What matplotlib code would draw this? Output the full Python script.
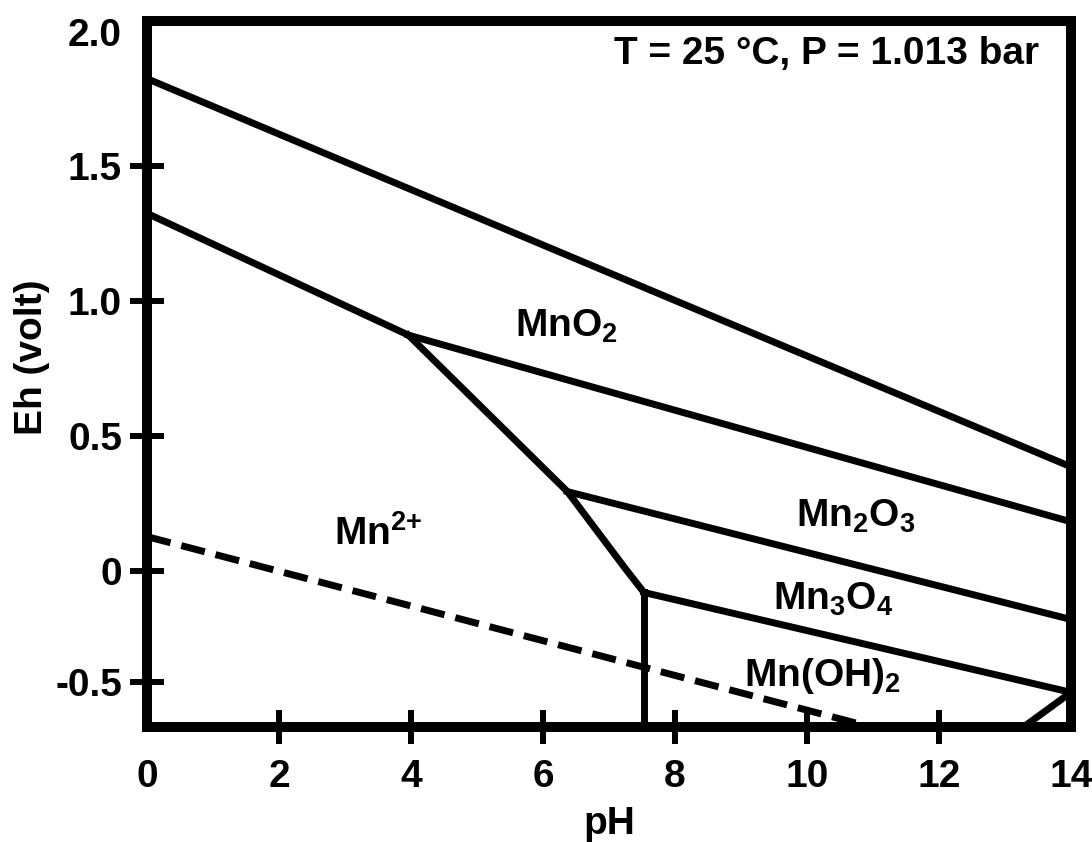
import numpy as np
import matplotlib
matplotlib.use("Agg")
import matplotlib.pyplot as plt

# Eh-pH diagram for Mn
# each boundary: pH list, Eh list
o2_water_ph = [0, 14]
o2_water_eh = [1.826, 0.385]

mn2_mno2_ph = [0, 3.96]
mn2_mno2_eh = [1.326, 0.874]

mno2_mn2o3_ph = [3.96, 14]
mno2_mn2o3_eh = [0.874, 0.181]

mn2_solid_ph = [3.96, 6.37, 7.27, 7.53]
mn2_solid_eh = [0.874, 0.293, 0.0, -0.098]

mn2o3_mn3o4_ph = [6.37, 11.08, 14]
mn2o3_mn3o4_eh = [0.293, 0.0, -0.219]

mn2_mnoh2_ph = [7.53, 7.53]
mn2_mnoh2_eh = [-0.098, -0.70]

mn3o4_mnoh2_ph = [7.53, 14]
mn3o4_mnoh2_eh = [-0.098, -0.545]

lower_right_ph = [14, 13.28]
lower_right_eh = [-0.545, -0.70]

h2_water_ph = [0, 1.96, 10.97]
h2_water_eh = [0.126, 0.0, -0.70]

labels = [r"$\mathrm{MnO_2}$", r"$\mathrm{Mn^{2{+}}}$", r"$\mathrm{Mn_2O_3}$",
          r"$\mathrm{Mn_3O_4}$", r"$\mathrm{Mn(OH)_2}$"]
label_ph = [6.36, 3.51, 10.74, 10.39, 10.23]
label_eh = [0.867, 0.096, 0.163, -0.174, -0.518]

xticks = [0, 2, 4, 6, 8, 10, 12, 14]
yticks = [-0.5, 0, 0.5, 1.0, 1.5, 2.0]
ytick_labels = ["-0.5", "0", "0.5", "1.0", "1.5", "2.0"]

plt.rcParams["font.family"] = ["Liberation Sans", "DejaVu Sans"]
plt.rcParams["font.weight"] = "bold"
plt.rcParams["mathtext.fontset"] = "custom"
plt.rcParams["mathtext.rm"] = "Liberation Sans:bold"
plt.rcParams["mathtext.it"] = "Liberation Sans:bold"
plt.rcParams["mathtext.bf"] = "Liberation Sans:bold"

# the picture's axis is squeezed below zero
neg = 224 / 270


def fwd(y):
    y = np.asarray(y, dtype=float)
    return np.where(y >= 0, y, y * neg)


def inv(t):
    t = np.asarray(t, dtype=float)
    return np.where(t >= 0, t, t / neg)


fig = plt.figure(figsize=(10.92, 8.42), dpi=100)
ax = fig.add_axes([147 / 1092, 1 - 727 / 842, 924 / 1092, 706 / 842])
ax.set_yscale("function", functions=(fwd, inv))

lw = 5
for xs, ys in [(o2_water_ph, o2_water_eh), (mn2_mno2_ph, mn2_mno2_eh),
               (mno2_mn2o3_ph, mno2_mn2o3_eh), (mn2_solid_ph, mn2_solid_eh),
               (mn2o3_mn3o4_ph, mn2o3_mn3o4_eh), (mn2_mnoh2_ph, mn2_mnoh2_eh),
               (mn3o4_mnoh2_ph, mn3o4_mnoh2_eh), (lower_right_ph, lower_right_eh)]:
    ax.plot(xs, ys, color="black", lw=lw, solid_joinstyle="miter")

ax.plot(h2_water_ph, h2_water_eh, color="black", lw=lw, dashes=(3.5, 1.6))

for txt, x, y in zip(labels, label_ph, label_eh):
    ax.text(x, y, txt, fontsize=28, ha="center", va="baseline")

ax.text(13.52, 1.881, "T = 25 °C, P = 1.013 bar", fontsize=28,
        fontweight="bold", ha="right", va="baseline")

ax.set_xlim(0, 14)
ax.set_ylim(-0.70, 2.04)
ax.set_xticks(xticks)
ax.set_xticklabels([str(t) for t in xticks])
ax.set_yticks(yticks)
ax.set_yticklabels(ytick_labels)

for side in ["left", "right", "top", "bottom"]:
    ax.spines[side].set_linewidth(7.2)

ax.tick_params(axis="both", direction="inout", length=24, width=4.3,
               labelsize=28)
ax.tick_params(axis="x", pad=11)
ax.tick_params(axis="y", pad=6)
for lab in ax.get_xticklabels() + ax.get_yticklabels():
    lab.set_fontweight("bold")

# no tick marks on the corners
xt = ax.xaxis.get_major_ticks()
xt[0].tick1line.set_visible(False)
xt[-1].tick1line.set_visible(False)
ax.yaxis.get_major_ticks()[-1].tick1line.set_visible(False)

ax.set_xlabel("pH", fontsize=28, fontweight="bold")
ax.set_ylabel("Eh (volt)", fontsize=28, fontweight="bold")
ax.xaxis.set_label_coords(0.5, -0.112)
ax.yaxis.set_label_coords(-0.105, 0.524)

fig.savefig("out.png", dpi=100)
